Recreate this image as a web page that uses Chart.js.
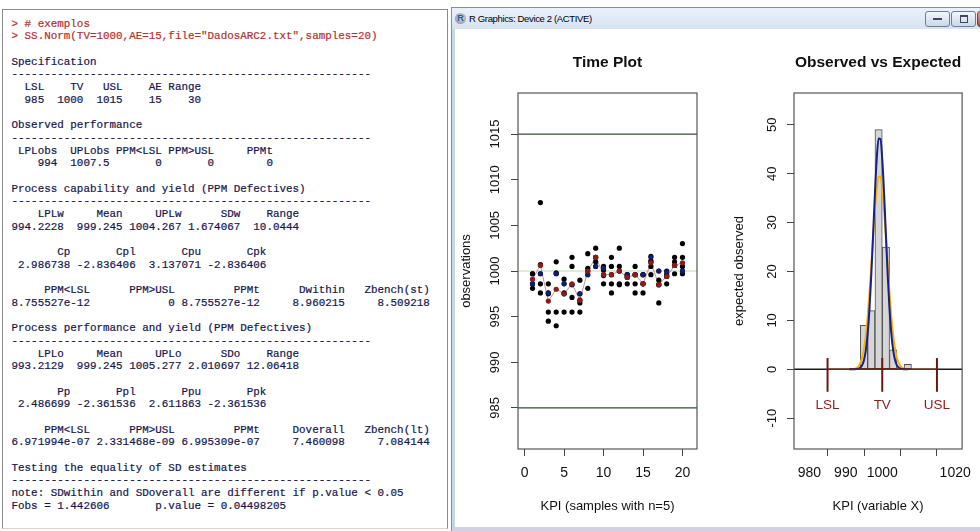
<!DOCTYPE html>
<html>
<head>
<meta charset="utf-8">
<title>SS.Norm</title>
<script src="https://cdn.jsdelivr.net/npm/chart.js@4.4.1/dist/chart.umd.min.js"></script>
<style>
  body { margin: 0; width: 980px; height: 531px; overflow: hidden; background: #fff; position: relative; font-family: "Liberation Sans", Arial, sans-serif; }
  #console { position: absolute; left: 2px; top: 9px; width: 444px; height: 518px; border: 1px solid #8c8c8c; border-bottom-color: #d4d4d4; background: #fff; }
  #console pre { position: absolute; left: 8.5px; top: 7.7px; margin: 0; font-family: "Liberation Mono", "Courier New", monospace; font-size: 10.9px; line-height: 12.68px; color: #16164a; -webkit-text-stroke: 0.2px; }
  #console .in { color: #b3302b; }
  #win { position: absolute; left: 451px; top: 7px; width: 529px; height: 524px; background: #c6d6ea; border-left: 1px solid #7f90a8; border-top: 1px solid #7f90a8; }
  #tbar { position: absolute; left: 0; top: 0; right: 0; height: 21px; background: linear-gradient(#eaf1fa, #d6e2f2); }
  #ricon { position: absolute; left: 3px; top: 5px; width: 11px; height: 11px; border-radius: 50%; background: radial-gradient(circle at 55% 45%, #e0e0e0 0, #9c9c9c 75%); font: bold 9px "Liberation Sans", Arial, sans-serif; color: #2257a8; text-align: center; line-height: 11px; }
  #ttl { position: absolute; left: 17px; top: 5px; font-size: 9.5px; letter-spacing: -0.35px; color: #000; white-space: nowrap; }
  #content { position: absolute; left: 3px; top: 21px; width: 526px; height: 498px; background: #fff; }
  .btn { position: absolute; top: 11px; height: 14px; border: 1px solid #6c7d96; border-radius: 3px; background: linear-gradient(#f3f7fc, #c9d7e9); }
  #bmin { left: 925px; width: 23px; }
  #bmin::after { content: ""; position: absolute; left: 7px; top: 6px; width: 9px; height: 2px; background: #3b4a60; }
  #bmax { left: 951px; width: 23px; }
  #bmax::after { content: ""; position: absolute; left: 8px; top: 3px; width: 6px; height: 5px; border: 1px solid #3b4a60; border-top-width: 2px; }
  #bclose { left: 977px; width: 28px; border-color: #8a3b2e; background: linear-gradient(#eba08f, #c3432d); }
  canvas { position: absolute; top: 29px; }
  #timePlot { left: 455px; }
  #histPlot { left: 717px; }
</style>
</head>
<body>
<div id="console"><pre><span class="in">&gt; # exemplos
&gt; SS.Norm(TV=1000,AE=15,file="DadosARC2.txt",samples=20)</span>

Specification
-------------------------------------------------------
  LSL    TV   USL    AE Range
  985  1000  1015    15    30

Observed performance
-------------------------------------------------------
 LPLobs  UPLobs PPM&lt;LSL PPM&gt;USL     PPMt
    994  1007.5       0       0        0

Process capability and yield (PPM Defectives)
-------------------------------------------------------
    LPLw     Mean     UPLw      SDw    Range
994.2228  999.245 1004.267 1.674067  10.0444

       Cp       Cpl       Cpu       Cpk
 2.986738 -2.836406  3.137071 -2.836406

     PPM&lt;LSL      PPM&gt;USL         PPMt      Dwithin   Zbench(st)
8.755527e-12            0 8.755527e-12     8.960215     8.509218

Process performance and yield (PPM Defectives)
-------------------------------------------------------
    LPLo     Mean     UPLo      SDo    Range
993.2129  999.245 1005.277 2.010697 12.06418

       Pp       Ppl       Ppu       Ppk
 2.486699 -2.361536  2.611863 -2.361536

     PPM&lt;LSL      PPM&gt;USL         PPMt     Doverall   Zbench(lt)
6.971994e-07 2.331468e-09 6.995309e-07     7.460098     7.084144

Testing the equality of SD estimates
-------------------------------------------------------
note: SDwithin and SDoverall are different if p.value &lt; 0.05
Fobs = 1.442606       p.value = 0.04498205</pre></div>

<div id="win">
  <div id="tbar"><div id="ricon">R</div><div id="ttl">R Graphics: Device 2 (ACTIVE)</div></div>
  <div id="content"></div>
</div>
<div class="btn" id="bmin"></div>
<div class="btn" id="bmax"></div>
<div class="btn" id="bclose"></div>

<canvas id="timePlot" width="262" height="497"></canvas>
<canvas id="histPlot" width="263" height="497"></canvas>

<script>
// --- time plot: 20 samples, n = 5 each ---
const samples = [1, 2, 3, 4, 5, 6, 7, 8, 9, 10, 11, 12, 13, 14, 15, 16, 17, 18, 19, 20];
const observations = [
    [999.7, 999.7, 998.6, 998.6, 998.1],
    [1007.5, 1000.7, 999.7, 998.6, 997.6],
    [998.6, 997.6, 997.5, 995.5, 994.5],
    [1001.0, 999.7, 999.8, 995.5, 994.0],
    [999.1, 998.6, 997.5, 997.6, 995.5],
    [1001.5, 1000.5, 998.5, 997.1, 995.5],
    [999.0, 997.5, 996.8, 996.5, 995.5],
    [1001.9, 1000.3, 1000.0, 999.6, 998.1],
    [1002.5, 1001.5, 1001.5, 1001.0, 1000.5],
    [1000.5, 1000.1, 999.6, 999.5, 998.6],
    [1001.5, 1000.5, 999.6, 998.6, 997.6],
    [1002.5, 1000.5, 1000.0, 998.6, 998.5],
    [999.6, 999.6, 999.4, 999.3, 998.6],
    [1000.5, 999.6, 999.6, 998.6, 997.6],
    [999.6, 999.6, 998.6, 998.6, 997.6],
    [1001.6, 1001.1, 1001.0, 1000.5, 999.6],
    [1000.0, 999.0, 998.5, 998.5, 996.5],
    [1000.0, 999.6, 999.4, 999.4, 998.6],
    [1001.5, 1001.0, 1000.6, 1000.6, 999.7],
    [1003.0, 1001.5, 1000.5, 1000.0, 999.7]
];
const sampleMeans = [999.1, 1000.6, 996.7, 998.0, 997.5, 998.6, 996.8, 1000.0, 1001.5, 999.6,
                     999.6, 1000.0, 999.3, 999.6, 998.6, 1000.9, 998.5, 999.4, 1000.6, 1000.9];
const sampleMedians = [998.6, 999.7, 997.6, 999.7, 998.6, 998.5, 997.5, 999.6, 1000.5, 1000.3,
                       999.6, 1000.0, 999.6, 999.6, 999.6, 1001.5, 1000.0, 999.9, 1000.6, 1000.0];
const timeXTicks = [0, 5, 10, 15, 20];
const timeYTicks = [985, 990, 995, 1000, 1005, 1010, 1015];

// spec limits
const specValues = [985, 1000, 1015];
const specNames = ['LSL', 'TV', 'USL'];

// --- histogram of the 100 observations, with the two fitted curves ---
const binMids = [995, 997, 999, 1001, 1003, 1005, 1007];
const binCounts = [9, 12, 49, 25, 4, 0, 1];
const curveX = [991, 991.5, 992, 992.5, 993, 993.5, 994, 994.5, 995, 995.5, 996, 996.5, 997, 997.5,
                998, 998.5, 999, 999.5, 1000, 1000.5, 1001, 1001.5, 1002, 1002.5, 1003, 1003.5,
                1004, 1004.5, 1005, 1005.5, 1006, 1006.5, 1007];
const curveWithin = [0, 0, 0, 0.01, 0.05, 0.13, 0.35, 0.86, 1.9, 3.9, 7.3, 12.4, 19.4, 27.7,
                     36.1, 43.2, 47.2, 47.1, 43.0, 36.0, 27.5, 19.2, 12.3, 7.2, 3.85, 1.9,
                     0.85, 0.35, 0.13, 0.04, 0.01, 0, 0];
const curveOverall = [0.01, 0.02, 0.06, 0.14, 0.32, 0.67, 1.32, 2.45, 4.27, 7.0, 10.8, 15.6, 21.3, 27.2,
                      32.8, 37.0, 39.4, 39.4, 37.0, 32.7, 27.1, 21.2, 15.5, 10.7, 6.9, 4.2,
                      2.4, 1.3, 0.66, 0.31, 0.14, 0.06, 0.02];
const histXTicks = [980, 990, 1000, 1010, 1020];
const histXLabels = ['980', '990', '1000', '', '1020'];
const histYTicks = [-10, 0, 10, 20, 30, 40, 50];

Chart.defaults.font.family = '"Liberation Sans", Arial, sans-serif';
Chart.defaults.color = '#111';

// R look: box, rotated y labels, reference lines, spec marks
const rStyle = {
    id: 'rStyle',
    beforeDatasetsDraw(chart, args, opts) {
        const { ctx, chartArea: a, scales: { y } } = chart;
        (opts.hLines || []).forEach(l => {
            const py = y.getPixelForValue(l.value);
            ctx.save();
            ctx.strokeStyle = l.color;
            ctx.lineWidth = 1.2;
            ctx.beginPath();
            ctx.moveTo(a.left, py);
            ctx.lineTo(a.right, py);
            ctx.stroke();
            ctx.restore();
        });
    },
    afterDatasetsDraw(chart, args, opts) {
        if (!opts.spec) return;
        const { ctx, chartArea: a, scales: { x, y } } = chart;
        const y0 = y.getPixelForValue(0);
        ctx.save();
        ctx.lineWidth = 1.5;
        ctx.strokeStyle = '#1a1a1a';
        ctx.beginPath();
        ctx.moveTo(a.left, y0);
        ctx.lineTo(a.right, y0);
        ctx.stroke();
        ctx.strokeStyle = '#8b1c1c';
        ctx.beginPath();
        ctx.moveTo(x.getPixelForValue(specValues[0]), y0);
        ctx.lineTo(x.getPixelForValue(specValues[2]), y0);
        ctx.stroke();
        ctx.lineWidth = 2;
        ctx.strokeStyle = '#6e1616';
        ctx.fillStyle = '#8b1c1c';
        ctx.font = '13.5px "Liberation Sans", Arial, sans-serif';
        ctx.textAlign = 'center';
        ctx.textBaseline = 'middle';
        specValues.forEach((v, i) => {
            const px = x.getPixelForValue(v);
            ctx.beginPath();
            ctx.moveTo(px, y.getPixelForValue(opts.spec.top));
            ctx.lineTo(px, y.getPixelForValue(opts.spec.bottom));
            ctx.stroke();
            ctx.fillText(specNames[i], px, y.getPixelForValue(opts.spec.label));
        });
        ctx.restore();
    },
    afterDraw(chart, args, opts) {
        const { ctx, chartArea: a, scales: { y } } = chart;
        ctx.save();
        ctx.strokeStyle = '#555';
        ctx.lineWidth = 1.2;
        ctx.strokeRect(a.left, a.top, a.right - a.left, a.bottom - a.top);
        ctx.fillStyle = '#111';
        ctx.font = '13px "Liberation Sans", Arial, sans-serif';
        ctx.textAlign = 'center';
        ctx.textBaseline = 'middle';
        y.ticks.forEach(t => {
            ctx.save();
            ctx.translate(a.left - opts.labelGap, y.getPixelForValue(t.value));
            ctx.rotate(-Math.PI / 2);
            ctx.fillText(String(t.value), 0, 0);
            ctx.restore();
        });
        ctx.restore();
    }
};

function rScales(o) {
    const tickGrid = { drawOnChartArea: false, drawTicks: true, tickLength: 7, color: '#444' };
    return {
        x: {
            type: 'linear', min: o.xMin, max: o.xMax, offset: false,
            afterBuildTicks: s => { s.ticks = o.xTicks.map(v => ({ value: v })); },
            afterFit: s => { s.height = 77; },
            grid: tickGrid,
            border: { display: false },
            ticks: { autoSkip: false, maxRotation: 0, padding: 8.5, font: { size: 14 }, callback: (v, i) => o.xLabels[i] },
            title: { display: true, text: o.xTitle, font: { size: 13 }, padding: { top: 0, bottom: 12 } }
        },
        y: {
            type: 'linear', min: o.yMin, max: o.yMax,
            afterBuildTicks: s => { s.ticks = o.yTicks.map(v => ({ value: v })); },
            afterFit: s => { s.width = o.yWidth; },
            grid: tickGrid,
            border: { display: false },
            ticks: { display: false },
            title: { display: true, text: o.yTitle, font: { size: 13 }, padding: { top: o.yTitlePad, bottom: 0 } }
        }
    };
}

function rTitle(text) {
    return { display: true, text: text, fullSize: false, font: { size: 15.5, weight: 'bold' }, padding: { top: 24.7, bottom: 20.7 } };
}

// time plot
const obsPoints = [];
observations.forEach((vals, i) => vals.forEach(v => obsPoints.push({ x: samples[i], y: v })));
const meanPoints = samples.map((s, i) => ({ x: s, y: sampleMeans[i] }));
const medianPoints = samples.map((s, i) => ({ x: s, y: sampleMedians[i] }));

new Chart(document.getElementById('timePlot'), {
    type: 'scatter',
    data: {
        datasets: [
            { type: 'line', data: meanPoints, borderColor: '#b27a78', borderWidth: 0.8, pointRadius: 0, order: 4 },
            { data: obsPoints, backgroundColor: '#000', pointRadius: 2.6, pointBorderWidth: 0, order: 3 },
            { data: medianPoints, backgroundColor: '#0d1f6e', pointRadius: 2.5, pointBorderWidth: 0, order: 2 },
            { data: meanPoints, backgroundColor: '#8e1a1a', pointRadius: 2.6, pointBorderWidth: 0, order: 1 }
        ]
    },
    options: {
        responsive: false,
        animation: false,
        layout: { padding: { left: 0, right: 20, top: 0, bottom: 0 } },
        plugins: {
            legend: { display: false },
            tooltip: { enabled: false },
            title: rTitle('Time Plot'),
            rStyle: {
                labelGap: 23,
                hLines: [
                    { value: specValues[0], color: '#2f5230' },
                    { value: specValues[2], color: '#2f5230' },
                    { value: specValues[1], color: '#b7dcb2' }
                ]
            }
        },
        scales: rScales({
            xMin: -0.84, xMax: 21.84, xTicks: timeXTicks, xLabels: timeXTicks.map(String),
            xTitle: 'KPI (samples with n=5)',
            yMin: 980.5, yMax: 1019.5, yTicks: timeYTicks, yWidth: 63,
            yTitle: 'observations', yTitlePad: 3.2
        })
    },
    plugins: [rStyle]
});

// observed vs expected
new Chart(document.getElementById('histPlot'), {
    type: 'bar',
    data: {
        datasets: [
            {
                data: binMids.map((m, i) => ({ x: m, y: binCounts[i] })),
                backgroundColor: '#d6d6d6', borderColor: '#505050', borderWidth: 1, borderSkipped: false,
                barPercentage: 1, categoryPercentage: 1, grouped: false, order: 3
            },
            {
                type: 'line', data: curveX.map((v, i) => ({ x: v, y: curveOverall[i] })),
                borderColor: '#f5b400', borderWidth: 2, pointRadius: 0, cubicInterpolationMode: 'monotone', order: 2
            },
            {
                type: 'line', data: curveX.map((v, i) => ({ x: v, y: curveWithin[i] })),
                borderColor: '#17208a', borderWidth: 2, pointRadius: 0, cubicInterpolationMode: 'monotone', order: 1
            }
        ]
    },
    options: {
        responsive: false,
        animation: false,
        layout: { padding: { left: 0, right: 17, top: 0, bottom: 0 } },
        plugins: {
            legend: { display: false },
            tooltip: { enabled: false },
            title: rTitle('Observed vs Expected'),
            rStyle: { labelGap: 22, spec: { top: 2.3, bottom: -4.6, label: -7.4 } }
        },
        scales: rScales({
            xMin: 975.8, xMax: 1021.9, xTicks: histXTicks, xLabels: histXLabels,
            xTitle: 'KPI (variable X)',
            yMin: -16.3, yMax: 56.5, yTicks: histYTicks, yWidth: 77,
            yTitle: 'expected observed', yTitlePad: 14.2
        })
    },
    plugins: [rStyle]
});
</script>
</body>
</html>
